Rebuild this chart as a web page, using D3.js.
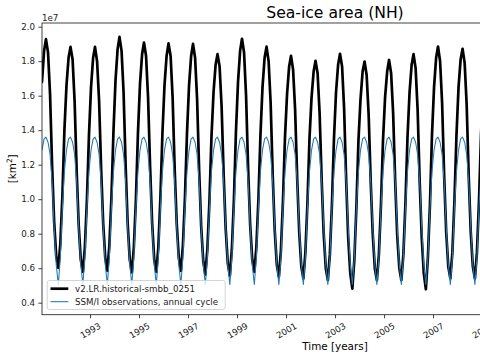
<!DOCTYPE html>
<html><head><meta charset="utf-8">
<script src="https://cdn.jsdelivr.net/npm/d3@7"></script>
<style>
body{margin:0;background:#fff}
text{font-family:"DejaVu Sans",sans-serif}
</style>
</head><body>
<svg id="chart" width="480" height="360"></svg>
<script>
// ---- data (values in units of 1e7 km^2) ----
const years = [1991,1992,1993,1994,1995,1996,1997,1998,1999,2000,2001,2002,2003,2004,2005,2006,2007,2008,2009];
// model monthly sea-ice area, Jan..Dec for each year
const modelValues = [
  [1.68,1.86,1.928,1.85,1.61,1.19,0.87,0.67,0.602,0.74,1.02,1.40],
  [1.66,1.82,1.883,1.81,1.57,1.16,0.85,0.65,0.579,0.72,1.00,1.37],
  [1.65,1.82,1.883,1.80,1.57,1.17,0.86,0.66,0.585,0.73,1.01,1.39],
  [1.69,1.87,1.941,1.86,1.62,1.19,0.86,0.65,0.575,0.72,1.00,1.38],
  [1.67,1.84,1.908,1.83,1.59,1.18,0.86,0.65,0.579,0.72,1.01,1.38],
  [1.66,1.83,1.903,1.83,1.59,1.17,0.86,0.66,0.585,0.73,1.01,1.38],
  [1.66,1.83,1.900,1.82,1.58,1.16,0.84,0.64,0.563,0.71,0.99,1.36],
  [1.62,1.78,1.841,1.77,1.54,1.14,0.83,0.63,0.556,0.71,1.00,1.39],
  [1.68,1.86,1.930,1.85,1.60,1.17,0.85,0.65,0.579,0.72,1.00,1.37],
  [1.65,1.82,1.884,1.80,1.56,1.14,0.82,0.62,0.550,0.70,0.99,1.36],
  [1.61,1.77,1.831,1.75,1.52,1.12,0.81,0.61,0.540,0.69,0.98,1.35],
  [1.59,1.74,1.802,1.73,1.50,1.11,0.80,0.60,0.530,0.68,0.97,1.35],
  [1.62,1.78,1.843,1.77,1.53,1.11,0.78,0.57,0.482,0.65,0.96,1.34],
  [1.58,1.74,1.798,1.72,1.49,1.10,0.80,0.60,0.530,0.68,0.97,1.34],
  [1.59,1.74,1.807,1.73,1.50,1.10,0.79,0.60,0.530,0.68,0.98,1.36],
  [1.62,1.78,1.841,1.76,1.52,1.10,0.78,0.57,0.478,0.66,0.97,1.37],
  [1.65,1.82,1.885,1.80,1.56,1.13,0.81,0.61,0.540,0.69,0.99,1.37],
  [1.65,1.81,1.872,1.79,1.55,1.13,0.81,0.61,0.540,0.69,0.99,1.37],
  [1.66,1.82,1.880]
];
// SSM/I observed annual cycle, Jan..Dec
const obsCycle = [1.285,1.35,1.36,1.33,1.26,1.10,0.84,0.62,0.505,0.66,0.95,1.16];
const xTickYears = [1993,1995,1997,1999,2001,2003,2005,2007,2009];
const yTicks = [0.4,0.6,0.8,1.0,1.2,1.4,1.6,1.8,2.0];
const seriesNames = ["v2.LR.historical-smbb_0251","SSM/I observations, annual cycle"];
const titleText = "Sea-ice area (NH)";
const xLabel = "Time [years]";
const offsetText = "1e7";

// ---- build series ----
const model = [];
const obs = [];
years.forEach((yr, i) => {
  modelValues[i].forEach((v, m) => {
    model.push({date: new Date(yr, m, 16), value: v});
    obs.push({date: new Date(yr, m, 16), value: obsCycle[m]});
  });
});

// ---- layout ----
const svg = d3.select("#chart");
const L = 42, R = 628, T = 23, B = 314.7;
const x = d3.scaleTime()
  .domain([new Date(1991,0,16), new Date(2014,11,16)])
  .range([L, R]);
const y = d3.scaleLinear().domain([0.3304, 2.0214]).range([B, T]);

svg.append("defs").append("clipPath").attr("id","clip")
  .append("rect").attr("x",L).attr("y",T).attr("width",R-L).attr("height",B-T);

const line = d3.line().x(d => x(d.date)).y(d => y(d.value));

const plot = svg.append("g").attr("clip-path","url(#clip)");
plot.append("path").datum(model).attr("d", line)
  .attr("fill","none").attr("stroke","#000").attr("stroke-width",2.7)
  .attr("stroke-linejoin","round").attr("stroke-linecap","round");
plot.append("path").datum(obs).attr("d", line)
  .attr("fill","none").attr("stroke","#1f77b4").attr("stroke-width",1.05)
  .attr("stroke-linejoin","round");

// spines
svg.append("rect").attr("x",L).attr("y",T).attr("width",R-L).attr("height",B-T)
  .attr("fill","none").attr("stroke","#222").attr("stroke-width",0.85);

// y axis
const yAxis = svg.append("g").attr("transform",`translate(${L},0)`)
  .call(d3.axisLeft(y).tickValues(yTicks).tickFormat(d3.format(".1f"))
        .tickSize(3.6).tickPadding(3.4).tickSizeOuter(0));
yAxis.select(".domain").remove();
yAxis.selectAll(".tick line").attr("stroke","#222").attr("stroke-width",0.85);
yAxis.selectAll(".tick text").attr("font-size",8.7).attr("fill","#222")
  .attr("font-family","DejaVu Sans");

// x axis
const xAxis = svg.append("g").attr("transform",`translate(0,${B})`)
  .call(d3.axisBottom(x).tickValues(xTickYears.map(v => new Date(v,0,1)))
        .tickFormat(d3.timeFormat("%Y")).tickSize(3.6).tickSizeOuter(0));
xAxis.select(".domain").remove();
xAxis.selectAll(".tick line").attr("stroke","#222").attr("stroke-width",0.85);
xAxis.selectAll(".tick text").attr("font-size",8.7).attr("fill","#222")
  .attr("font-family","DejaVu Sans")
  .attr("y",0).attr("dy",null)
  .attr("text-anchor","middle").attr("dominant-baseline","central")
  .attr("transform","translate(0,16) rotate(-30)");

// offset text
svg.append("text").attr("x",L).attr("y",21).attr("font-size",8.7).attr("fill","#222")
  .text(offsetText);

// title
svg.append("text").attr("x",(L+R)/2).attr("y",17.5).attr("text-anchor","middle")
  .attr("font-size",15.6).attr("fill","#000").text(titleText);

// axis labels
svg.append("text").attr("x",(L+R)/2).attr("y",350).attr("text-anchor","middle")
  .attr("font-size",10.4).attr("fill","#000").text(xLabel);
const yl = svg.append("text").attr("transform",`translate(16,${(T+B)/2}) rotate(-90)`)
  .attr("text-anchor","middle").attr("font-size",10.4).attr("fill","#000");
yl.append("tspan").text("[km");
yl.append("tspan").attr("dy",-4).attr("font-size",7.3).text("2");
yl.append("tspan").attr("dy",4).text("]");

// legend
const lg = svg.append("g");
lg.append("rect").attr("x",47.2).attr("y",280.5).attr("width",178).attr("height",29)
  .attr("rx",2.5).attr("fill","#fff").attr("fill-opacity",0.8)
  .attr("stroke","#ccc").attr("stroke-width",0.85);
const legendItems = [
  {name: seriesNames[0], color:"#000", w:2.7},
  {name: seriesNames[1], color:"#1f77b4", w:1.05}
];
legendItems.forEach((d,i) => {
  const yy = 288.7 + i*13;
  lg.append("line").attr("x1",50.5).attr("x2",68.3).attr("y1",yy).attr("y2",yy)
    .attr("stroke",d.color).attr("stroke-width",d.w);
  lg.append("text").attr("x",75).attr("y",yy).attr("dy","0.35em")
    .attr("font-size",8.7).attr("fill","#222").text(d.name);
});
</script>
</body></html>
